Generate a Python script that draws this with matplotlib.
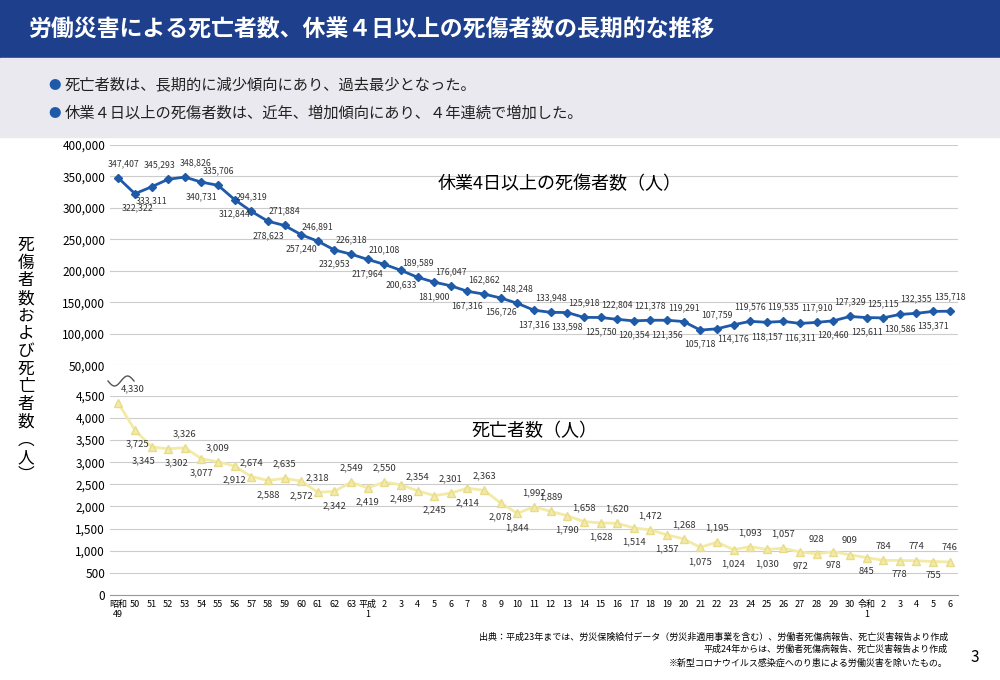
import numpy as np
import matplotlib
matplotlib.use("Agg")
import matplotlib.pyplot as plt
from matplotlib.lines import Line2D
from matplotlib.patches import Rectangle

plt.rcParams['font.family'] = ['Noto Sans CJK JP', 'DejaVu Sans']

# ---------------- data ----------------
years = (["昭和\n49"] + [str(y) for y in range(50, 64)]
         + ["平成\n1"] + [str(y) for y in range(2, 31)]
         + ["令和\n1"] + [str(y) for y in range(2, 7)])

injuries = [347407, 322322, 333311, 345293, 348826, 340731, 335706, 312844, 294319,
            278623, 271884, 257240, 246891, 232953, 226318,
            217964, 210108, 200633, 189589, 181900, 176047, 167316, 162862, 156726,
            148248, 137316, 133948, 133598, 125918, 125750, 122804, 120354, 121378,
            121356, 119291, 105718, 107759, 114176, 119576, 118157, 119535, 116311,
            117910, 120460, 127329,
            125611, 125115, 130586, 132355, 135371, 135718]

deaths = [4330, 3725, 3345, 3302, 3326, 3077, 3009, 2912, 2674, 2588, 2635, 2572,
          2318, 2342, 2549,
          2419, 2550, 2489, 2354, 2245, 2301, 2414, 2363, 2078, 1844, 1992, 1889,
          1790, 1658, 1628, 1620, 1514, 1472, 1357, 1268, 1075, 1195, 1024, 1093,
          1030, 1057, 972, 928, 978, 909,
          845, 784, 778, 774, 755, 746]

# label placement: 1 above, -1 below; dx in points
inj_pos = [1, -1, -1, 1, 1] + [(-1 if i % 2 == 0 else 1) for i in range(46)]
inj_dx = [0] * len(injuries)
inj_dx[0], inj_dx[1], inj_dx[3], inj_dx[4] = 4, 2, -6, 8
dth_pos = ([1, -1, -1, -1, 1] + [(-1 if i % 2 == 0 else 1) for i in range(18)]
           + [-1, -1, 1, 1] + [(-1 if i % 2 == 0 else 1) for i in range(24)])
dth_dx = [0] * len(deaths)
dth_dx[0], dth_dx[1], dth_dx[2], dth_dx[3] = 10, 2, -6, 6

BLUE = "#1f5aa8"
YEL = "#f3eaa6"
x = np.arange(len(years))

fig = plt.figure(figsize=(10, 6.8), dpi=100)

# header
fig.add_artist(Rectangle((0, 1 - 58/680), 1, 58/680, transform=fig.transFigure,
                         color="#1d3f8c", zorder=0))
fig.text(0.028, 1 - 30/680, "労働災害による死亡者数、休業４日以上の死傷者数の長期的な推移",
         color="white", fontsize=16.5, fontweight="bold", va="center")
fig.add_artist(Rectangle((0, 1 - 137/680), 1, 79/680, transform=fig.transFigure,
                         color="#e9e9ef", zorder=0))
fig.text(0.048, 1 - 85/680, "●", color=BLUE, fontsize=9, va="center")
fig.text(0.065, 1 - 85/680, "死亡者数は、長期的に減少傾向にあり、過去最少となった。",
         fontsize=11, va="center", color="#222222")
fig.text(0.048, 1 - 113/680, "●", color=BLUE, fontsize=9, va="center")
fig.text(0.065, 1 - 113/680, "休業４日以上の死傷者数は、近年、増加傾向にあり、４年連続で増加した。",
         fontsize=11, va="center", color="#222222")

left, width = 0.110, 0.848
ax1 = fig.add_axes([left, 0.463, width, 0.324])
ax2 = fig.add_axes([left, 0.125, width, 0.293])

for ax in (ax1, ax2):
    ax.set_xlim(-0.5, len(years) - 0.5)
    for s in ax.spines.values():
        s.set_visible(False)
    ax.grid(axis="y", color="#cccccc", lw=0.8)
    ax.set_axisbelow(True)
    ax.tick_params(length=0, labelsize=8.5)

# upper: injuries
ax1.set_ylim(50000, 400000)
ax1.set_yticks(range(50000, 400001, 50000))
ax1.set_yticklabels([f"{v:,}" for v in range(50000, 400001, 50000)])
ax1.set_xticks([])
ax1.plot(x, injuries, color=BLUE, lw=2, marker="D", ms=4.5)
for xi, v, p, dx in zip(x, injuries, inj_pos, inj_dx):
    ax1.annotate(f"{v:,}", (xi, v), xytext=(dx, 7 * p), textcoords="offset points",
                 ha="center", va="bottom" if p > 0 else "top", fontsize=6.3,
                 color="#333333")
ax1.text(0.53, 0.80, "休業4日以上の死傷者数（人）", transform=ax1.transAxes,
         ha="center", fontsize=13)

# lower: deaths
ax2.set_ylim(0, 4500)
ax2.set_yticks(range(0, 4501, 500))
ax2.set_yticklabels([f"{v:,}" for v in range(0, 4501, 500)])
ax2.set_xticks(x)
ax2.set_xticklabels(years, fontsize=6.5, va="top")
ax2.spines["bottom"].set_visible(True)
ax2.spines["bottom"].set_color("#999999")
ax2.plot(x, deaths, color=YEL, lw=2, marker="^", ms=6, mfc=YEL, mec="#e8dc8a")
for xi, v, p, dx in zip(x, deaths, dth_pos, dth_dx):
    ax2.annotate(f"{v:,}", (xi, v), xytext=(dx, 7 * p), textcoords="offset points",
                 ha="center", va="bottom" if p > 0 else "top", fontsize=6.8,
                 color="#333333")
ax2.text(0.50, 0.80, "死亡者数（人）", transform=ax2.transAxes,
         ha="center", fontsize=13)

# broken-axis squiggle
t = np.linspace(0, 1, 50)
fig.add_artist(Line2D(0.108 + 0.026 * t, 1 - (381 + 5 * np.sin(2 * np.pi * t)) / 680,
                      transform=fig.transFigure, color="#555555", lw=1))

# y label (vertical)
fig.text(0.026, 0.47, "\n".join("死傷者数および死亡者数︵人︶"), fontsize=12,
         ha="center", va="center", linespacing=1.05)

# footnotes
fig.text(0.948, 1 - 640/680, "出典：平成23年までは、労災保険給付データ（労災非適用事業を含む）、労働者死傷病報告、死亡災害報告より作成",
         ha="right", fontsize=6.5)
fig.text(0.948, 1 - 652/680, "平成24年からは、労働者死傷病報告、死亡災害報告より作成",
         ha="right", fontsize=6.5)
fig.text(0.948, 1 - 666/680, "※新型コロナウイルス感染症へのり患による労働災害を除いたもの。",
         ha="right", fontsize=6.5)
fig.text(0.975, 1 - 662/680, "3", ha="center", fontsize=11)

fig.savefig("out.png", dpi=100)
